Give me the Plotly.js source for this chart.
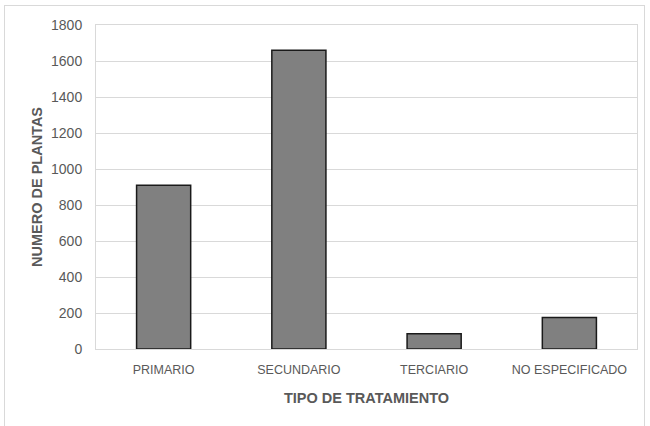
<!DOCTYPE html>
<html><head><meta charset="utf-8">
<script src="https://cdn.plot.ly/plotly-3.0.1.min.js"></script>
<style>
html,body{margin:0;padding:0;background:#fff;}
#frame{position:absolute;left:4px;top:5px;width:641px;height:430px;border:1px solid #d9d9d9;box-sizing:border-box;}
#chart{position:absolute;left:0;top:0;width:650px;height:426px;}
</style>
</head><body>
<div id="frame"></div>
<div id="chart"></div>
<script>
const categories = ["PRIMARIO", "SECUNDARIO", "TERCIARIO", "NO ESPECIFICADO"];
const values = [910, 1660, 85, 175];
const yTicks = [0, 200, 400, 600, 800, 1000, 1200, 1400, 1600, 1800];

const font = "Liberation Sans Narrow, Arial Narrow, sans-serif";
Plotly.newPlot("chart", [{
  type: "bar",
  x: categories,
  y: values,
  marker: {color: "#808080", line: {color: "#1a1a1a", width: 1.5}},
  hoverinfo: "none"
}], {
  width: 650, height: 426,
  margin: {l: 96, r: 13, t: 25, b: 77},
  paper_bgcolor: "rgba(0,0,0,0)",
  plot_bgcolor: "#fff",
  bargap: 0.6,
  showlegend: false,
  font: {family: font, color: "#595959", size: 12.5},
  xaxis: {
    showline: true, linecolor: "#d9d9d9", linewidth: 1, mirror: true,
    ticks: "", ticklabelstandoff: 9,
    tickfont: {family: font, size: 12.5, color: "#595959"},
    title: {text: "TIPO DE TRATAMIENTO", font: {family: font, size: 14.5, color: "#595959", weight: "bold"}, standoff: 16}
  },
  yaxis: {
    range: [0, 1800], tickvals: yTicks, ticktext: yTicks.map(String),
    showgrid: true, gridcolor: "#d9d9d9", gridwidth: 1,
    showline: true, linecolor: "#d9d9d9", linewidth: 1, mirror: true,
    zeroline: false, ticks: "", ticklabelstandoff: 10,
    tickfont: {family: font, size: 14, color: "#595959"},
    title: {text: "NUMERO DE PLANTAS", font: {family: font, size: 14.5, color: "#595959", weight: "bold"}, standoff: 4}
  }
}, {displayModeBar: false, staticPlot: true});
</script>
</body></html>
